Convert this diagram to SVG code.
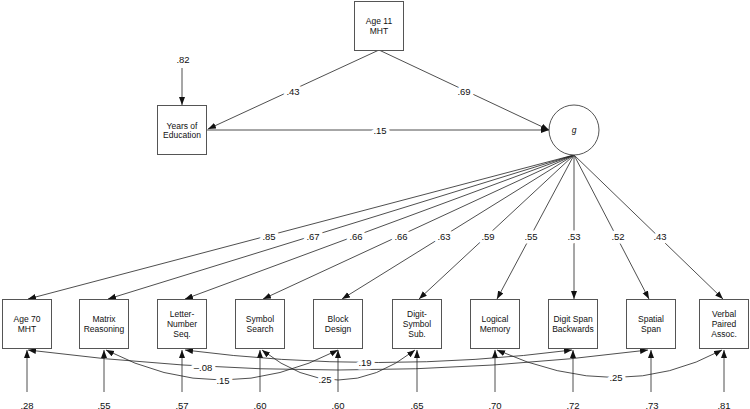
<svg xmlns="http://www.w3.org/2000/svg" width="750" height="409" viewBox="0 0 750 409">
<style>
.box{fill:#fff;stroke:#555;stroke-width:1}
.t{font-family:"Liberation Sans",Arial,sans-serif;font-size:8.5px;fill:#111;text-anchor:middle}
.l{font-family:"Liberation Sans",Arial,sans-serif;font-size:9.5px;fill:#111;text-anchor:middle;stroke:#fff;stroke-width:7;paint-order:stroke;stroke-linejoin:round}
.c{fill:none;stroke:#222;stroke-width:0.8}
.a{marker-end:url(#ah)}
.d{marker-start:url(#ah);marker-end:url(#ah)}
</style>
<defs>
<marker id="ah" markerUnits="userSpaceOnUse" markerWidth="9" markerHeight="7" refX="8" refY="3" orient="auto-start-reverse">
<path d="M0,0 L8,3 L0,6 z" fill="#111"/>
</marker>
</defs>
<g id="connectors">
<line class="c a" x1="182" y1="68" x2="182" y2="105"/>
<line class="c a" x1="379" y1="50" x2="208" y2="129"/>
<line class="c a" x1="379" y1="50" x2="549" y2="130"/>
<line class="c a" x1="207" y1="130" x2="549" y2="130"/>
<line class="c a" x1="574" y1="155" x2="28" y2="299"/>
<line class="c a" x1="574" y1="155" x2="108" y2="299"/>
<line class="c a" x1="574" y1="155" x2="185" y2="299"/>
<line class="c a" x1="574" y1="155" x2="263" y2="299"/>
<line class="c a" x1="574" y1="155" x2="342" y2="299"/>
<line class="c a" x1="574" y1="155" x2="419" y2="299"/>
<line class="c a" x1="574" y1="155" x2="497" y2="299"/>
<line class="c a" x1="574" y1="155" x2="574" y2="299"/>
<line class="c a" x1="574" y1="155" x2="649" y2="299"/>
<line class="c a" x1="574" y1="155" x2="723" y2="299"/>
<line class="c a" x1="27" y1="392" x2="27" y2="350"/>
<line class="c a" x1="104" y1="392" x2="104" y2="350"/>
<line class="c a" x1="182" y1="392" x2="182" y2="350"/>
<line class="c a" x1="260" y1="392" x2="260" y2="350"/>
<line class="c a" x1="338" y1="392" x2="338" y2="350"/>
<line class="c a" x1="417" y1="392" x2="417" y2="350"/>
<line class="c a" x1="495" y1="392" x2="495" y2="350"/>
<line class="c a" x1="573" y1="392" x2="573" y2="350"/>
<line class="c a" x1="651" y1="392" x2="651" y2="350"/>
<line class="c a" x1="724" y1="392" x2="724" y2="350"/>
<path class="c d" d="M28,350 Q338,390 648,350"/>
<path class="c d" d="M185,350 Q378,375 572,350"/>
<path class="c d" d="M106,350 Q222,410 338,350"/>
<path class="c d" d="M262,350 Q338,410 415,350"/>
<path class="c d" d="M497,350 Q620,405 722,350"/>
<text class="l" x="183" y="62.5">.82</text>
<text class="l" x="293" y="94.5">.43</text>
<text class="l" x="464" y="94.5">.69</text>
<text class="l" x="380" y="133.5">.15</text>
<text class="l" x="269" y="239.5">.85</text>
<text class="l" x="313" y="239.5">.67</text>
<text class="l" x="356" y="239.5">.66</text>
<text class="l" x="401" y="239.5">.66</text>
<text class="l" x="444" y="239.5">.63</text>
<text class="l" x="488" y="239.5">.59</text>
<text class="l" x="531" y="239.5">.55</text>
<text class="l" x="574" y="239.5">.53</text>
<text class="l" x="618" y="239.5">.52</text>
<text class="l" x="660" y="239.5">.43</text>
<text class="l" x="203" y="370.5">–.08</text>
<text class="l" x="365" y="365.5">.19</text>
<text class="l" x="223" y="383.5">.15</text>
<text class="l" x="325" y="382.5">.25</text>
<text class="l" x="616" y="380.5">.25</text>
<text class="l" x="27" y="408.5">.28</text>
<text class="l" x="104" y="408.5">.55</text>
<text class="l" x="182" y="408.5">.57</text>
<text class="l" x="260" y="408.5">.60</text>
<text class="l" x="338" y="408.5">.60</text>
<text class="l" x="417" y="408.5">.65</text>
<text class="l" x="495" y="408.5">.70</text>
<text class="l" x="573" y="408.5">.72</text>
<text class="l" x="652" y="408.5">.73</text>
<text class="l" x="724" y="408.5">.81</text>
</g>
<g id="age11">
<rect class="box" x="354.5" y="1.5" width="49" height="49"/>
<text class="t" x="379" y="24">Age 11</text>
<text class="t" x="379" y="34">MHT</text>
</g>
<g id="education">
<rect class="box" x="157.5" y="105.5" width="49" height="49"/>
<text class="t" x="182" y="128.5">Years of</text>
<text class="t" x="182" y="138">Education</text>
</g>
<g id="g">
<circle cx="574" cy="130" r="25" fill="#fff" stroke="#555" stroke-width="1"/>
<text class="t" x="574" y="133" font-style="italic" font-size="9.5">g</text>
</g>
<g id="age70">
<rect class="box" x="2.5" y="299.5" width="49" height="49"/>
<text class="t" x="27" y="322">Age 70</text>
<text class="t" x="27" y="332">MHT</text>
</g>
<g id="matrix">
<rect class="box" x="79.5" y="299.5" width="49" height="49"/>
<text class="t" x="104" y="322">Matrix</text>
<text class="t" x="104" y="332">Reasoning</text>
</g>
<g id="lns">
<rect class="box" x="157.5" y="299.5" width="49" height="49"/>
<text class="t" x="182" y="317">Letter-</text>
<text class="t" x="182" y="327">Number</text>
<text class="t" x="182" y="336.5">Seq.</text>
</g>
<g id="symbol">
<rect class="box" x="235.5" y="299.5" width="49" height="49"/>
<text class="t" x="260" y="322">Symbol</text>
<text class="t" x="260" y="332">Search</text>
</g>
<g id="block">
<rect class="box" x="313.5" y="299.5" width="49" height="49"/>
<text class="t" x="338" y="322">Block</text>
<text class="t" x="338" y="332">Design</text>
</g>
<g id="digitsymbol">
<rect class="box" x="392.5" y="299.5" width="49" height="49"/>
<text class="t" x="417" y="317">Digit-</text>
<text class="t" x="417" y="327">Symbol</text>
<text class="t" x="417" y="336.5">Sub.</text>
</g>
<g id="logical">
<rect class="box" x="470.5" y="299.5" width="49" height="49"/>
<text class="t" x="495" y="322">Logical</text>
<text class="t" x="495" y="332">Memory</text>
</g>
<g id="digitspan">
<rect class="box" x="548.5" y="299.5" width="49" height="49"/>
<text class="t" x="573" y="322">Digit Span</text>
<text class="t" x="573" y="332">Backwards</text>
</g>
<g id="spatial">
<rect class="box" x="626.5" y="299.5" width="49" height="49"/>
<text class="t" x="651" y="322">Spatial</text>
<text class="t" x="651" y="332">Span</text>
</g>
<g id="verbal">
<rect class="box" x="699.5" y="299.5" width="49" height="49"/>
<text class="t" x="724" y="317">Verbal</text>
<text class="t" x="724" y="327">Paired</text>
<text class="t" x="724" y="336.5">Assoc.</text>
</g>
</svg>
